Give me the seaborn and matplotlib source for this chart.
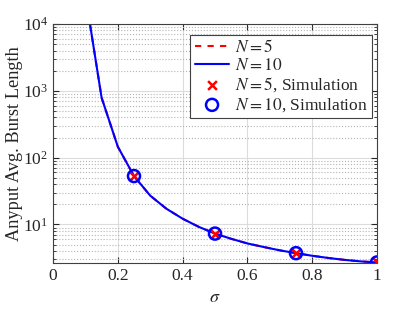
import numpy as np
import pandas as pd
import matplotlib
matplotlib.use("Agg")
import matplotlib.pyplot as plt
import seaborn as sns

# analytical curves (N=5 and N=10 coincide)
sigma = [0.10, 0.15, 0.20, 0.25, 0.30, 0.35, 0.40, 0.45, 0.50, 0.55,
         0.60, 0.65, 0.70, 0.75, 0.80, 0.85, 0.90, 0.95, 1.00]
burst_n5 = [27000, 790, 146, 53, 27, 17.2, 12.2, 9.2, 7.3, 6.1,
            5.2, 4.6, 4.1, 3.72, 3.4, 3.15, 2.95, 2.8, 2.7]
burst_n10 = [27000, 790, 146, 53, 27, 17.2, 12.2, 9.2, 7.3, 6.1,
             5.2, 4.6, 4.1, 3.72, 3.4, 3.15, 2.95, 2.8, 2.7]

# simulation points
sim_sigma = [0.25, 0.50, 0.75, 1.00]
sim_n5 = [53, 7.3, 3.72, 2.7]
sim_n10 = [53, 7.3, 3.72, 2.7]

sns.set_style("ticks")
plt.rcParams['font.family'] = ['Liberation Serif', 'DejaVu Serif']
plt.rcParams['mathtext.fontset'] = 'stix'

fig = plt.figure(figsize=(4.15, 3.12), dpi=100)
ax = fig.add_axes([53 / 415, 1 - 263 / 312, 324 / 415, 239 / 312])

df = pd.DataFrame({"sigma": sigma, "n5": burst_n5, "n10": burst_n10})
sim = pd.DataFrame({"sigma": sim_sigma, "n5": sim_n5, "n10": sim_n10})

sns.lineplot(data=df, x="sigma", y="n5", ax=ax, color="red", linestyle=(0, (3, 3)),
             linewidth=1.5, label="$N=5$")
sns.lineplot(data=df, x="sigma", y="n10", ax=ax, color="blue", linestyle="-",
             linewidth=1.5, label="$N=10$")
sns.scatterplot(data=sim, x="sigma", y="n5", ax=ax, marker="x", color="red",
                s=40, linewidth=1.8, label="$N=5$, Simulation", zorder=4)
sns.scatterplot(data=sim, x="sigma", y="n10", ax=ax, marker="o", facecolor="none",
                edgecolor="blue", s=75, linewidth=1.8,
                label="$N=10$, Simulation", zorder=5)

ax.set_yscale("log")
ax.set_xlim(0, 1)
ax.set_ylim(2.65, 1e4)
ax.set_xticks([0, 0.2, 0.4, 0.6, 0.8, 1])
ax.set_xticklabels(["0", "0.2", "0.4", "0.6", "0.8", "1"])
ax.set_yticks([10, 100, 1000, 10000])

ax.set_xlabel(r"$\sigma$", fontsize=13)
ax.set_ylabel("Anyput Avg. Burst Length", fontsize=13.2, labelpad=0)

ax.grid(True, which="major", color="#dcdcdc", linewidth=0.8)
ax.grid(True, which="minor", axis="y", color="#b4b4b4", linestyle=":", linewidth=0.8)
ax.set_axisbelow(True)

for s in ax.spines.values():
    s.set_color("#404040")
    s.set_linewidth(0.8)
ax.tick_params(which="both", direction="in", top=True, right=True,
               colors="#262626", labelsize=12.5)
ax.tick_params(which="minor", length=2.5)
ax.tick_params(which="major", length=4)

leg = ax.legend(loc="upper right", bbox_to_anchor=(0.995, 0.97), fontsize=12.5,
                frameon=True, fancybox=False, framealpha=1, edgecolor="#404040",
                handlelength=2.0, handletextpad=0.3, borderpad=0.25,
                labelspacing=0.1, borderaxespad=0.2)
leg.get_frame().set_linewidth(0.8)

fig.savefig("out.png", dpi=100)
